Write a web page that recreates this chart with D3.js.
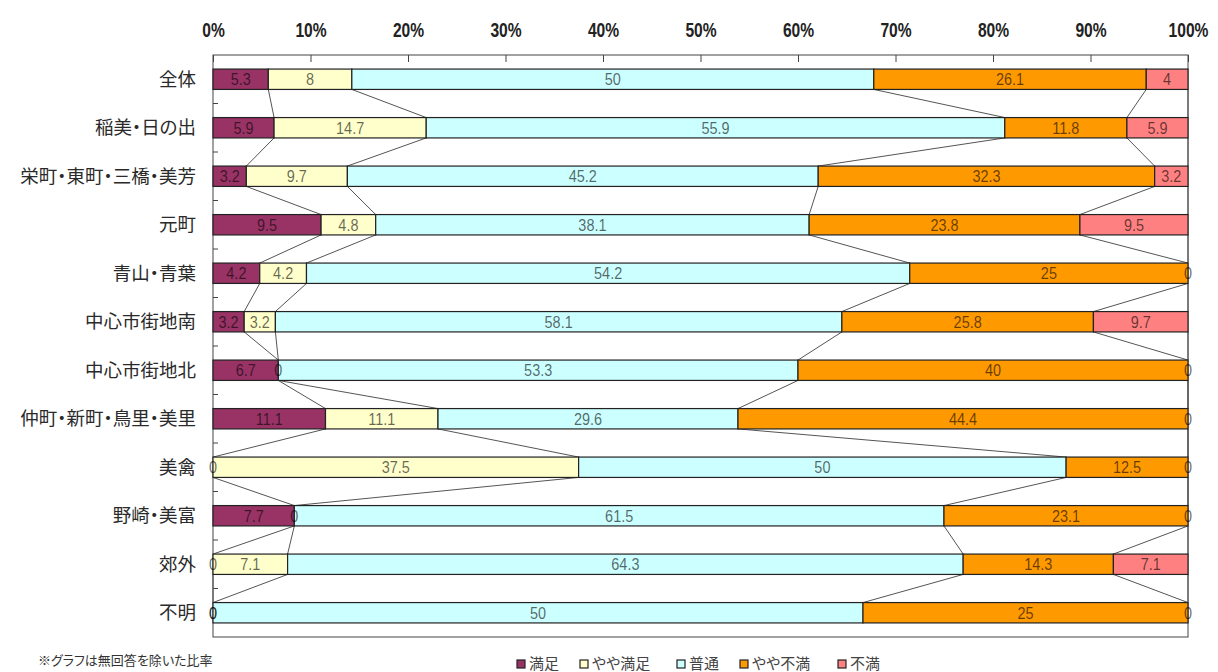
<!doctype html>
<html>
  <head>
    <meta charset="utf-8">
    <title>満足度 地区別</title>
    <script src="https://cdnjs.cloudflare.com/ajax/libs/d3/7.8.5/d3.min.js"></script>
    <style>
      body { margin: 0; background: #fff; }
      .jp { font-family: "Noto Sans CJK JP", sans-serif; font-feature-settings: "palt"; }
      .num { font-family: "Liberation Sans", Arial, sans-serif; }
    </style>
  </head>
  <body>
    <div id="chart"></div>
    <script>
      // data
      const areas = ['全体', '稲美・日の出', '栄町・東町・三橋・美芳', '元町', '青山・青葉', '中心市街地南',
                     '中心市街地北', '仲町・新町・鳥里・美里', '美禽', '野崎・美富', '郊外', '不明'];
      const seriesNames = ['満足', 'やや満足', '普通', 'やや不満', '不満'];
      const manzoku     = [5.3, 5.9, 3.2, 9.5, 4.2, 3.2, 6.7, 11.1, 0, 7.7, 0, 0];
      const yayaManzoku = [8, 14.7, 9.7, 4.8, 4.2, 3.2, 0, 11.1, 37.5, 0, 7.1, 0];
      const futsuu      = [50, 55.9, 45.2, 38.1, 54.2, 58.1, 53.3, 29.6, 50, 61.5, 64.3, 50];
      const yayaFuman   = [26.1, 11.8, 32.3, 23.8, 25, 25.8, 40, 44.4, 12.5, 23.1, 14.3, 25];
      const fuman       = [4, 5.9, 3.2, 9.5, 0, 9.7, 0, 0, 0, 0, 7.1, 0];
      const tickLabels = ['0%', '10%', '20%', '30%', '40%', '50%', '60%', '70%', '80%', '90%', '100%'];

      const colors = ['#993366', '#FFFFCC', '#CCFFFF', '#FF9900', '#FF8080'];
      const seriesValues = [manzoku, yayaManzoku, futsuu, yayaFuman, fuman];

      const rows = areas.map((a, i) => {
        const r = { area: a };
        seriesNames.forEach((s, k) => r[s] = seriesValues[k][i]);
        return r;
      });

      const W = 1218, H = 672;
      const plotTop = 55, plotBottom = 637;

      const svg = d3.select('#chart').append('svg')
        .attr('width', W).attr('height', H);

      const x = d3.scaleLinear().domain([0, 1]).range([213, 1188]);
      const y = d3.scaleBand().domain(areas).range([plotTop, plotBottom]).paddingInner(0.58).paddingOuter(0.29);
      const band = d3.scaleBand().domain(areas).range([plotTop, plotBottom]);

      const stacked = d3.stack().keys(seriesNames).offset(d3.stackOffsetExpand)(rows);

      // plot frame
      svg.append('rect')
        .attr('x', x(0)).attr('y', plotTop)
        .attr('width', x(1) - x(0)).attr('height', plotBottom - plotTop)
        .attr('fill', 'none').attr('stroke', '#444').attr('stroke-width', 1);

      // top axis
      const xAxis = d3.axisTop(x)
        .tickValues(d3.range(0, 11).map(d => d / 10))
        .tickFormat((d, i) => tickLabels[i])
        .tickSizeInner(-7).tickSizeOuter(0).tickPadding(0);
      const gx = svg.append('g').attr('transform', `translate(0,${plotTop})`).call(xAxis);
      gx.select('.domain').remove();
      gx.selectAll('line').attr('stroke', '#444');
      gx.selectAll('text')
        .attr('class', 'num')
        .attr('y', null).attr('dy', null)
        .attr('transform', 'translate(0,-18) scale(0.78,1)')
        .attr('font-size', 20).attr('font-weight', 'bold').attr('fill', '#222');

      // left axis ticks at band edges
      svg.append('g').selectAll('line')
        .data(areas.slice(1).map(a => band(a)))
        .join('line')
        .attr('x1', x(0)).attr('x2', x(0) + 5)
        .attr('y1', d => d).attr('y2', d => d)
        .attr('stroke', '#444');

      // category labels
      svg.append('g').selectAll('text')
        .data(areas)
        .join('text')
        .attr('class', 'jp')
        .attr('x', 196)
        .attr('y', d => y(d) + y.bandwidth() / 2)
        .attr('dy', '0.36em')
        .attr('text-anchor', 'end')
        .attr('font-size', 18.5)
        .attr('fill', '#2a2a2a')
        .text(d => d);

      // series lines
      const lines = [];
      stacked.forEach(s => {
        for (let i = 0; i < areas.length - 1; i++) {
          lines.push({ x1: x(s[i][1]), y1: y(areas[i]) + y.bandwidth(), x2: x(s[i + 1][1]), y2: y(areas[i + 1]) });
        }
      });
      svg.append('g').selectAll('line')
        .data(lines)
        .join('line')
        .attr('x1', d => d.x1).attr('y1', d => d.y1)
        .attr('x2', d => d.x2).attr('y2', d => d.y2)
        .attr('stroke', '#555').attr('stroke-width', 1);

      // bars
      svg.append('g').selectAll('g')
        .data(stacked)
        .join('g')
        .attr('fill', (d, k) => colors[k])
        .selectAll('rect')
        .data(d => d)
        .join('rect')
        .attr('x', d => x(d[0]))
        .attr('y', d => y(d.data.area))
        .attr('width', d => x(d[1]) - x(d[0]))
        .attr('height', y.bandwidth())
        .attr('stroke', '#222').attr('stroke-width', 1.2);

      // value labels (drawn after all bars)
      const labelData = stacked.flatMap(s => s.map(d => ({ key: s.key, d })));
      svg.append('g').selectAll('text')
        .data(labelData)
        .join('text')
        .attr('class', 'num')
        .attr('transform', v => `translate(${(x(v.d[0]) + x(v.d[1])) / 2},${y(v.d.data.area) + y.bandwidth() / 2}) scale(0.85,1)`)
        .attr('dy', '0.36em')
        .attr('text-anchor', 'middle')
        .attr('font-size', 17)
        .attr('fill', '#000').attr('fill-opacity', 0.6)
        .text(v => v.d.data[v.key]);

      // note
      svg.append('text')
        .attr('class', 'jp')
        .attr('x', 38).attr('y', 665)
        .attr('font-size', 13).attr('fill', '#333')
        .text('※グラフは無回答を除いた比率');

      // legend
      const legendX = [517, 580, 677, 740, 838];
      const legend = svg.append('g').selectAll('g')
        .data(seriesNames)
        .join('g')
        .attr('transform', (d, i) => `translate(${legendX[i]},664)`);
      legend.append('rect')
        .attr('x', 0).attr('y', -4).attr('width', 8).attr('height', 8)
        .attr('fill', (d, i) => colors[i]).attr('stroke', '#222').attr('stroke-width', 1.2);
      legend.append('text')
        .attr('class', 'jp')
        .attr('x', 12).attr('y', 0).attr('dy', '0.36em')
        .attr('font-size', 15).attr('fill', '#444')
        .text(d => d);
    </script>
  </body>
</html>
